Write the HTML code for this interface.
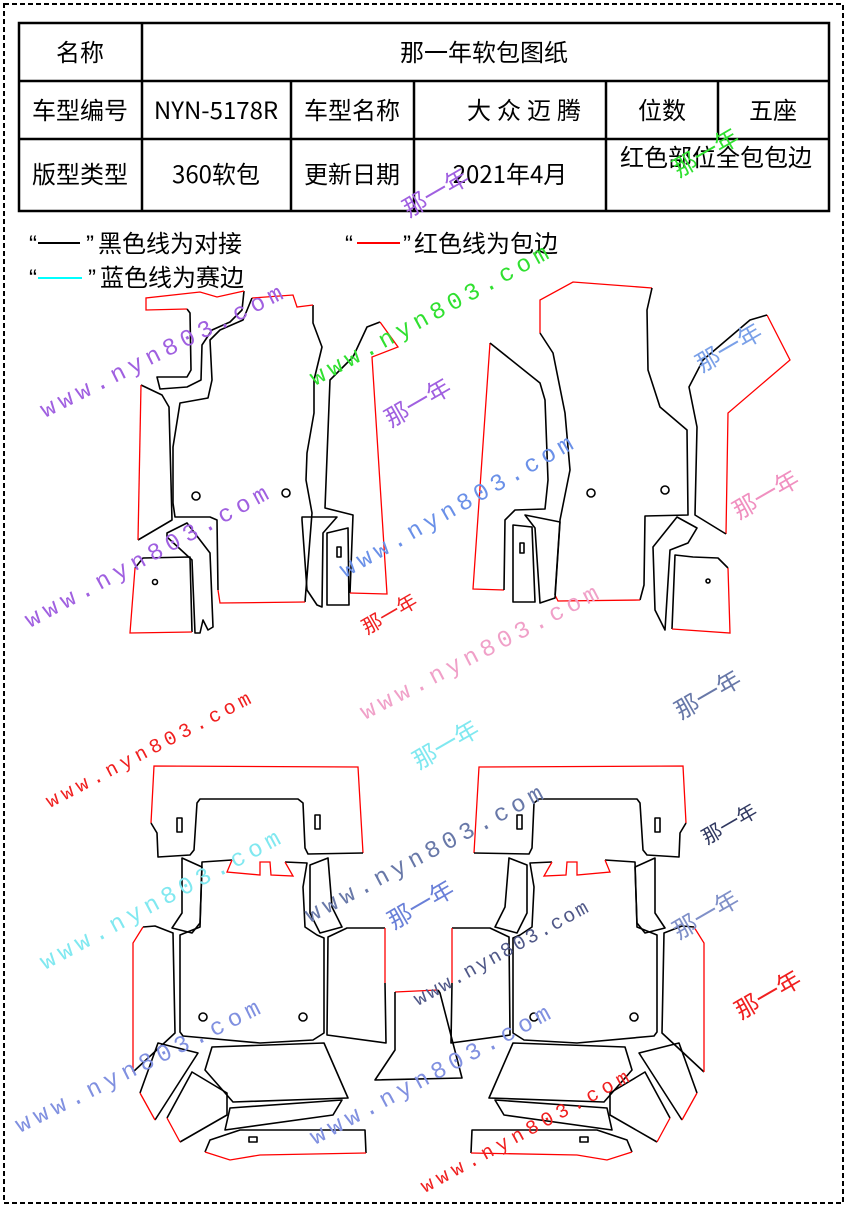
<!DOCTYPE html>
<html><head><meta charset="utf-8"><style>
html,body{margin:0;padding:0;background:#fff}
svg{display:block}
.t{font-family:"Noto Sans CJK SC","Liberation Sans",sans-serif;font-size:24px;fill:#000}
.q{font-family:"Liberation Sans",sans-serif}
.w{font-family:"Liberation Mono",monospace;font-size:24px}
.n{font-family:"Noto Sans CJK SC",sans-serif;font-size:24px}
.k{fill:none;stroke:#000;stroke-width:1.6;stroke-linejoin:round}
.r{fill:none;stroke:#f00;stroke-width:1.3}
</style></head><body>
<svg width="847" height="1207" viewBox="0 0 847 1207" xmlns="http://www.w3.org/2000/svg">
<rect x="4" y="4" width="839" height="1199" fill="none" stroke="#000" stroke-width="2" stroke-dasharray="5 3"/>
<g fill="none" stroke="#000" stroke-width="2.5">
<rect x="19" y="23" width="810" height="188"/>
<line x1="19" y1="81" x2="829" y2="81"/><line x1="19" y1="139" x2="829" y2="139"/>
<line x1="142" y1="23" x2="142" y2="211"/>
<line x1="291" y1="81" x2="291" y2="211"/><line x1="414" y1="81" x2="414" y2="211"/>
<line x1="606" y1="81" x2="606" y2="211"/><line x1="718" y1="81" x2="718" y2="139"/>
</g>
<g class="t" text-anchor="middle">
<text x="80" y="61">名称</text><text x="484" y="61">那一年软包图纸</text>
<text x="80" y="119">车型编号</text><text x="216" y="119">NYN-5178R</text><text x="352" y="119">车型名称</text>
<text x="527" y="119" letter-spacing="6">大众迈腾</text><text x="662" y="119">位数</text><text x="773" y="119">五座</text>
<text x="80" y="183">版型类型</text><text x="216" y="183">360软包</text><text x="352" y="183">更新日期</text>
<text x="510" y="183">2021年4月</text><text x="716" y="166">红色部位全包包边</text>
</g>
<g class="t" font-size="22">
<text class="q" x="29" y="252">“</text><line x1="38" y1="243" x2="80" y2="243" stroke="#000" stroke-width="2"/><text class="q" x="86" y="252">”</text><text x="98" y="252">黑色线为对接</text>
<text class="q" x="345" y="252">“</text><line x1="357" y1="243" x2="400" y2="243" stroke="#f00" stroke-width="2"/><text class="q" x="403" y="252">”</text><text x="414" y="252">红色线为包边</text>
<text class="q" x="29" y="286">“</text><line x1="38" y1="278" x2="82" y2="278" stroke="#0ff" stroke-width="2"/><text class="q" x="88" y="286">”</text><text x="100" y="286">蓝色线为赛边</text>
</g>

<g>
<path class="k" d="M244,291 L242,310 230,322 212,330 202,345 201,380 187,387 160,389 157,377 187,377 191,370 190,313 187,309"/>
<path class="r" d="M187,309 L146,310 146,298 200,292 217,297 244,291"/>
<path class="k" d="M313,305 L313,323 322,347 314,380 314,413 307,453 306,480 312,513 305,602"/>
<path class="r" d="M252,298 L293,295 297,307 313,305 M305,602 L220,603 218,590"/>
<path class="k" d="M218,590 L217,520 210,517 175,517 173,503 173,447 180,403 208,398 212,380 210,340 220,330 243,320 252,298"/>
<circle class="k" cx="196" cy="496" r="4"/><circle class="k" cx="286" cy="493" r="4"/>
<path class="k" d="M141,385 L162,395 169,407 172,520 138,540"/><path class="r" d="M141,385 L138,540"/>
<path class="k" d="M135,568 L143,558 190,557 192,632"/><path class="r" d="M135,568 L130,633 192,632"/>
<circle class="k" cx="155" cy="582" r="2.5"/>
<path class="k" d="M167,533 L187,523 210,553 213,627 208,630 203,620 200,633 195,633 192,560 167,537Z"/>
<path class="k" d="M302,517 L337,517 323,533 322,607 317,605 307,590 302,520Z"/>
<path class="k" d="M327,533 L348,528 349,605 327,605Z"/><rect class="k" x="337" y="547" width="4" height="10"/>
<path class="k" d="M350,593 L353,515 325,508 330,380 353,357 367,327 380,322"/>
<path class="r" d="M380,322 L398,347 372,357 387,594 350,593"/>
</g>
<g>
<path class="r" d="M490,343 L473,589 504,590"/>
<path class="k" d="M504,590 L505,520 515,510 545,509 548,480 545,400 540,383 490,343"/>
<path class="r" d="M540,333 L540,300 573,282 652,288"/>
<path class="k" d="M652,288 L647,310 648,370 660,407 687,430 688,515 645,516 644,585 640,600"/>
<path class="r" d="M640,600 L558,601 555,595"/>
<path class="k" d="M555,595 L560,520 570,470 565,413 553,353 540,333"/>
<circle class="k" cx="591" cy="493" r="4"/><circle class="k" cx="665" cy="490" r="4"/>
<path class="k" d="M513,525 L532,527 535,602 513,602Z"/><rect class="k" x="520" y="543" width="4" height="10"/>
<path class="k" d="M525,515 L560,522 555,598 540,603 535,528Z"/>
<path class="r" d="M767,315 L790,360 728,413 726,534"/>
<path class="k" d="M726,534 L695,515 697,427 689,387 703,360 750,320 767,315"/>
<path class="k" d="M677,517 L697,528 688,543 670,550 665,630 660,620 655,610 653,547Z"/>
<path class="k" d="M672,629 L675,555 693,557 718,558 728,568"/><path class="r" d="M728,568 L730,633 672,629"/>
<circle class="k" cx="708" cy="581" r="2"/>
</g>

<g id="bl">
<path class="r" d="M151,823 L154,766 358,767 363,853"/>
<path class="k" d="M363,853 L308,854 305,848 303,803 298,799 200,799 197,803 194,850 190,855 158,857 157,833 151,823"/>
<rect class="k" x="177" y="818" width="5" height="14"/><rect class="k" x="315" y="815" width="5" height="14"/>
<path class="k" d="M232,860 L202,862 200,927 180,935 180,1032 183,1036 260,1043 313,1040 324,1033 324,938 317,935 305,927 303,887 307,863 285,862"/>
<path class="r" d="M232,860 L227,872 260,875 260,862 270,862 271,875 293,876 285,862"/>
<circle class="k" cx="203" cy="1017" r="4"/><circle class="k" cx="303" cy="1017" r="4"/>
<path class="k" d="M182,858 L202,867 200,923 192,933 172,928 182,913Z"/>
<path class="k" d="M310,865 L328,858 332,907 342,927 320,933 310,913Z"/>
<path class="k" d="M143,927 L155,926 173,933 175,1033 133,1072"/><path class="r" d="M133,1072 L133,943 143,927"/>
<path class="k" d="M385,928 L347,928 328,937 327,1035 386,1043 385,983"/><path class="r" d="M385,928 L385,983"/>
<path class="k" d="M212,1047 L324,1043 348,1098 233,1102 205,1070Z"/>
<path class="k" d="M140,1093 L158,1043 198,1053 155,1120"/><path class="r" d="M155,1120 L140,1093"/>
<path class="k" d="M167,1118 L192,1072 227,1093 227,1115 180,1142"/><path class="r" d="M180,1142 L167,1118"/>
<path class="k" d="M230,1108 L342,1100 333,1115 225,1130Z"/>
<path class="k" d="M205,1152 L210,1140 240,1130 365,1130 366,1153"/><path class="r" d="M366,1153 L260,1155 230,1160 205,1152"/>
<rect class="k" x="249" y="1137" width="8" height="5"/>
</g>
<use href="#bl" transform="translate(837,0) scale(-1,1)"/>
<path class="r" d="M395,992 L438,990"/>
<path class="k" d="M438,990 L440,993 462,1078 375,1080 395,1050 395,992"/>

<g class="w">
<text x="45" y="418" textLength="268" fill="#a060e0" transform="rotate(-26.6 45 418)">www.nyn803.com</text>
<text x="315" y="386" textLength="268" fill="#30e030" transform="rotate(-28.6 315 386)">www.nyn803.com</text>
<text x="30" y="628" textLength="273" fill="#a060e0" transform="rotate(-28.4 30 628)">www.nyn803.com</text>
<text x="345" y="578" textLength="264" fill="#6a90e8" transform="rotate(-29.5 345 578)">www.nyn803.com</text>
<text x="365" y="720" textLength="265" fill="#f0a0c8" transform="rotate(-27.4 365 720)">www.nyn803.com</text>
<text x="50" y="808" textLength="228" fill="#f02020" font-size="20" transform="rotate(-27.5 50 808)">www.nyn803.com</text>
<text x="45" y="970" textLength="269" fill="#80e8f0" transform="rotate(-28.2 45 970)">www.nyn803.com</text>
<text x="310" y="923" textLength="266" fill="#6878a8" transform="rotate(-28 310 923)">www.nyn803.com</text>
<text x="418" y="1006" textLength="196" fill="#505888" font-size="20" transform="rotate(-28.9 418 1006)">www.nyn803.com</text>
<text x="20" y="1133" textLength="270" fill="#8090e0" transform="rotate(-26.4 20 1133)">www.nyn803.com</text>
<text x="315" y="1145" textLength="269" fill="#8090e0" transform="rotate(-28.2 315 1145)">www.nyn803.com</text>
<text x="425" y="1193" textLength="234" fill="#f02020" font-size="20" transform="rotate(-28.6 425 1193)">www.nyn803.com</text>
</g>
<g class="n" text-anchor="middle">
<text x="440" y="200" fill="#a060e0" transform="rotate(-30 440 200)">那一年</text>
<text x="710" y="160" fill="#30e030" transform="rotate(-30 710 160)">那一年</text>
<text x="422" y="410" fill="#a060e0" transform="rotate(-30 422 410)">那一年</text>
<text x="733" y="355" fill="#7aa0e8" transform="rotate(-30 733 355)">那一年</text>
<text x="770" y="502" fill="#f090c0" transform="rotate(-30 770 502)">那一年</text>
<text x="393" y="620" fill="#f02020" font-size="20" transform="rotate(-30 393 620)">那一年</text>
<text x="712" y="702" fill="#6878a8" transform="rotate(-30 712 702)">那一年</text>
<text x="450" y="752" fill="#80e8f0" transform="rotate(-30 450 752)">那一年</text>
<text x="733" y="830" fill="#303860" font-size="20" transform="rotate(-30 733 830)">那一年</text>
<text x="425" y="912" fill="#6a80d8" transform="rotate(-30 425 912)">那一年</text>
<text x="710" y="922" fill="#8090c8" transform="rotate(-30 710 922)">那一年</text>
<text x="772" y="1002" fill="#f02020" transform="rotate(-30 772 1002)">那一年</text>
</g>
</svg>
</body></html>
